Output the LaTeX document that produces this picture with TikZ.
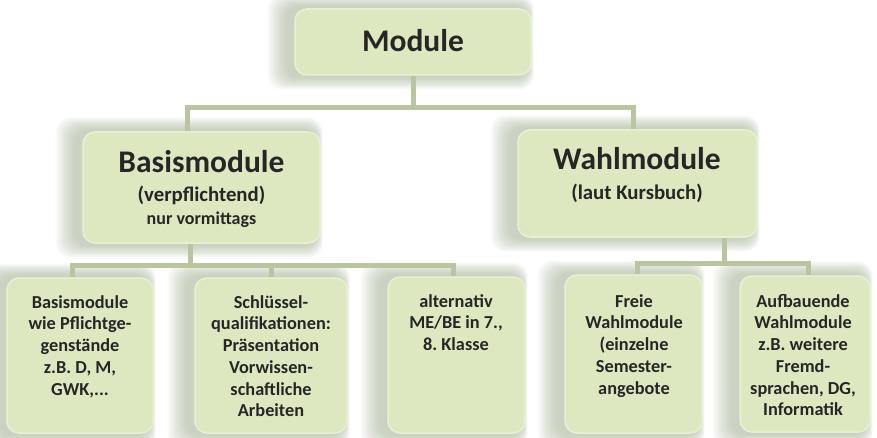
\documentclass[tikz,border=0pt]{standalone}
\usepackage{fontspec}
\setmainfont{Carlito}
\frenchspacing
\pgfdeclarelayer{sh}
\pgfdeclarelayer{bg}
\pgfsetlayers{sh,bg,main}
\definecolor{boxfill}{RGB}{221,232,192}
\definecolor{boxline}{RGB}{232,240,212}
\definecolor{connc}{RGB}{184,197,160}
\definecolor{txtc}{RGB}{38,38,38}
\definecolor{shadc}{RGB}{150,166,128}
\newcommand\softshadow[1]{%
  \foreach \i in {0,...,17}{%
    \fill[shadc, opacity=0.032, rounded corners=14pt]
      ([xshift=-8pt-1.1pt*\i, yshift=2pt+0.7pt*\i]#1.north west) rectangle
      ([xshift=-4pt+0.35pt*\i, yshift=-2pt-0.7pt*\i]#1.south east);}}
\newcommand\fst{\rule{0pt}{14pt}}
\begin{document}
\begin{tikzpicture}[x=1pt,y=-1pt,
  box/.style={draw=boxline, line width=1.5pt, fill=boxfill, rounded corners=12pt, inner sep=0pt},
  conn/.style={draw=connc, line width=5pt},
  txt/.style={text=txtc, font=\bfseries, inner sep=0pt},
  small/.style={txt, anchor=north, align=center, font=\bfseries\fontsize{18.3}{21.7}\selectfont}]
\useasboundingbox (0,0) rectangle (877,438);
\begin{pgfonlayer}{sh}
\fill[white] (0,0) rectangle (877,438);
\end{pgfonlayer}
% boxes
\node[box, minimum width=236pt, minimum height=66pt] (mod) at (413,42) {};
\node[box, minimum width=237pt, minimum height=111pt] (basis) at (201.5,187.5) {};
\node[box, minimum width=239pt, minimum height=107pt] (wahl) at (637.5,183.5) {};
\node[box, minimum width=146pt, minimum height=155pt] (b1) at (80,355.5) {};
\node[box, minimum width=152pt, minimum height=155pt] (b2) at (271,355.5) {};
\node[box, minimum width=137pt, minimum height=156pt] (b3) at (456.5,355) {};
\node[box, minimum width=137pt, minimum height=158pt] (b4) at (633.5,354) {};
\node[box, minimum width=130pt, minimum height=156pt] (b5) at (805,354) {};
% shadows
\begin{pgfonlayer}{sh}
\softshadow{mod}
\softshadow{basis}
\softshadow{wahl}
\softshadow{b1}
\softshadow{b2}
\softshadow{b3}
\softshadow{b4}
\softshadow{b5}
\end{pgfonlayer}
% connectors
\coordinate (j1) at (413,108);
\coordinate (j2) at (190,265);
\coordinate (j3) at (724,263);
\begin{pgfonlayer}{bg}
\draw[conn] (mod.south) -- (j1);
\draw[conn] ([xshift=-14.5pt]basis.north) |- (j1) -| ([xshift=-4.5pt]wahl.north);
\draw[conn] ([xshift=-11.5pt]basis.south) -- (j2);
\draw[conn] ([xshift=-8pt]b1.north) |- (j2) -| ([xshift=-3.5pt]b3.north);
\draw[conn] (b2.north) -- (b2.north |- j2);
\draw[conn] ([xshift=86.5pt]wahl.south) -- (j3);
\draw[conn] ([xshift=3.5pt]b4.north) |- (j3) -| ([xshift=3pt]b5.north);
\end{pgfonlayer}
% texts
\node[txt, anchor=base, font=\bfseries\fontsize{31.5}{37}\selectfont] (tmod) at (413,52) {Module};
\node[txt, anchor=base, font=\bfseries\fontsize{31.5}{37}\selectfont] (tbasis) at (201.5,173) {Basismodule};
\node[txt, anchor=base, font=\bfseries\fontsize{20.8}{24}\selectfont] (tverp) at (201.5,202) {(verpflichtend)};
\node[txt, anchor=base, font=\bfseries\fontsize{18}{21}\selectfont] (tnur) at (201.5,225) {nur vormittags};
\node[txt, anchor=base, font=\bfseries\fontsize{31.5}{37}\selectfont] (twahl) at (637,170) {Wahlmodule};
\node[txt, anchor=base, font=\bfseries\fontsize{20.8}{24}\selectfont] (tlaut) at (637,200) {(laut Kursbuch)};
\node[small] (t1) at (80,294) {\fst Basismodule\\wie Pflichtge-\\genstände\\z.B. D, M,\\GWK,...};
\node[small] (t2) at (271,294) {\fst Schlüssel-\\qualifikationen:\\Präsentation\\Vorwissen-\\schaftliche\\Arbeiten};
\node[small] (t3) at (456,293) {\fst alternativ\\ME/BE in 7.,\\8. Klasse};
\node[small] (t4) at (634,293) {\fst Freie\\Wahlmodule\\(einzelne\\Semester-\\angebote};
\node[small] (t5) at (803,293) {\fst Aufbauende\\Wahlmodule\\z.B. weitere\\Fremd-\\sprachen, DG,\\Informatik};
\end{tikzpicture}
\end{document}
